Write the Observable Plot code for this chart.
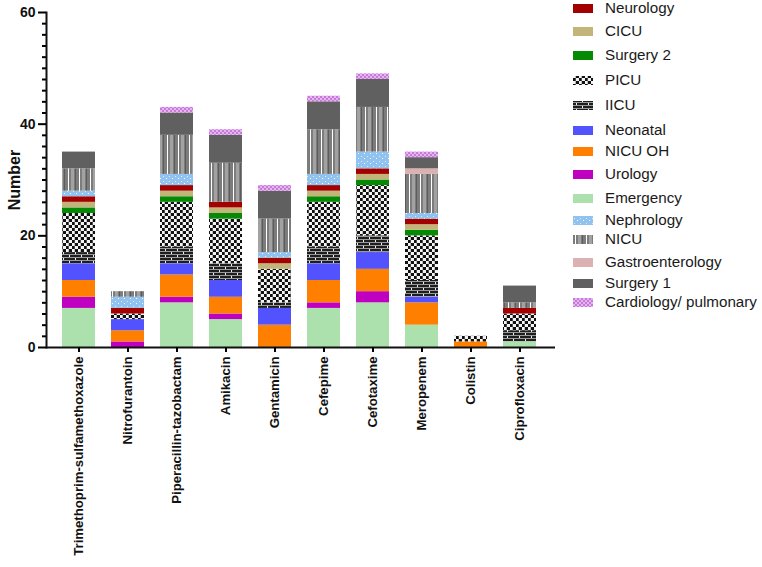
<!DOCTYPE html>
<html><head><meta charset="utf-8">
<script src="https://cdn.jsdelivr.net/npm/d3@7"></script>
<script src="https://cdn.jsdelivr.net/npm/@observablehq/plot@0.6"></script>
<style>
body{margin:0;background:#fff;font-family:"Liberation Sans",Arial,sans-serif;}
#wrap{position:relative;width:762px;height:567px;overflow:hidden;}
#chart{position:absolute;left:0;top:0;}
#chart svg{font-family:"Liberation Sans",Arial,sans-serif;}
#chart svg text{font-weight:bold;fill:#111;}
.item{position:absolute;left:573px;display:flex;align-items:center;font-size:15.2px;color:#1a1a1a;white-space:nowrap;line-height:1;}
.item svg{margin-right:12px;flex:none;}
</style></head><body>
<svg width="0" height="0" style="position:absolute"><defs>
<pattern id="p-picu" patternUnits="userSpaceOnUse" width="6" height="6"><rect width="6" height="6" fill="#f4f4f4"/><rect width="3" height="3" fill="#111"/><rect x="3" y="3" width="3" height="3" fill="#111"/><rect x="2" width="1" height="6" fill="#888" opacity="0.5"/></pattern>
<pattern id="p-iicu" patternUnits="userSpaceOnUse" width="12" height="6"><rect width="12" height="6" fill="#1e1e1e"/><rect y="2" width="12" height="1" fill="#9a9a9a"/><rect y="5" width="12" height="1" fill="#9a9a9a"/><rect x="3" y="0" width="1" height="2" fill="#eee"/><rect x="9" y="3" width="1" height="2" fill="#eee"/></pattern>
<pattern id="p-nicu" patternUnits="userSpaceOnUse" width="11" height="4"><rect width="11" height="4" fill="#7c7c7c"/><rect x="2" width="1" height="4" fill="#fff"/><rect x="5" width="3" height="4" fill="#a2a2a2"/><rect x="9" width="1" height="4" fill="#5c5c5c"/></pattern>
<pattern id="p-neph" patternUnits="userSpaceOnUse" width="6" height="5"><rect width="6" height="5" fill="#90c2f2"/><rect x="1" y="1" width="1" height="1" fill="#f2eeb0"/><rect x="4" y="3" width="1" height="1" fill="#ffffff"/></pattern>
<pattern id="p-card" patternUnits="userSpaceOnUse" width="4" height="4"><rect width="4" height="4" fill="#e6b4f2"/><rect width="2" height="2" fill="#c77ad8"/><rect x="2" y="2" width="2" height="2" fill="#c77ad8"/></pattern>
</defs></svg>
<div id="wrap"><div id="chart"></div><div id="legend"></div></div>
<script>
// Categories (x)
const antibiotics = ["Trimethoprim-sulfamethoxazole","Nitrofurantoin","Piperacillin-tazobactam","Amikacin","Gentamicin","Cefepime","Cefotaxime","Meropenem","Colistin","Ciprofloxacin"];
// Wards, stacking order bottom -> top
const wards = ["Emergency","Urology","NICU OH","Neonatal","IICU","PICU","Surgery 2","CICU","Neurology","Nephrology","NICU","Gastroenterology","Surgery 1","Cardiology/ pulmonary"];
// Series values per ward (same order as antibiotics)
const emergency        = [7,0,8,5,0,7,8,4,0,1];
const urology          = [2,1,1,1,0,1,2,0,0,0];
const nicuOH           = [3,2,4,3,4,4,4,4,1,0];
const neonatal         = [3,2,2,3,3,3,3,1,0,0];
const iicu             = [2,0,3,3,1,3,3,3,0,2];
const picu             = [7,1,8,8,6,8,9,8,1,3];
const surgery2         = [1,0,1,1,0,1,1,1,0,0];
const cicu             = [1,0,1,1,1,1,1,1,0,0];
const neurology        = [1,1,1,1,1,1,1,1,0,1];
const nephrology       = [1,2,2,0,1,2,3,1,0,0];
const nicu             = [4,1,7,7,6,8,8,7,0,1];
const gastroenterology = [0,0,0,0,0,0,0,1,0,0];
const surgery1         = [3,0,4,5,5,5,5,2,0,3];
const cardiology       = [0,0,1,1,1,1,1,1,0,0];
// Y ticks
const yMajor = [0,20,40,60];
const yMinor = [2,4,6,8,10,12,14,16,18,22,24,26,28,30,32,34,36,38,42,44,46,48,50,52,54,56,58];
// Legend order
const legendOrder = ["Neurology","CICU","Surgery 2","PICU","IICU","Neonatal","NICU OH","Urology","Emergency","Nephrology","NICU","Gastroenterology","Surgery 1","Cardiology/ pulmonary"];

const series = [emergency,urology,nicuOH,neonatal,iicu,picu,surgery2,cicu,neurology,nephrology,nicu,gastroenterology,surgery1,cardiology];
const wardFills = ["#ace0ac","#c000c0","#ff8000","#5252ff","url(#p-iicu)","url(#p-picu)","#058a05","#c3b57a","#a30000","url(#p-neph)","url(#p-nicu)","#dbb1b1","#606060","url(#p-card)"];

const rows = [];
wards.forEach((w, i) => antibiotics.forEach((a, j) => rows.push({drug: a, ward: w, value: series[i][j]})));

const chart = Plot.plot({
  width: 560, height: 567,
  marginLeft: 46, marginRight: 5, marginTop: 12, marginBottom: 220,
  x: {domain: antibiotics, range: [62, 537], paddingInner: 0.32, paddingOuter: 0, label: null},
  y: {domain: [0, 60], label: null},
  color: {type: "ordinal", domain: wards, range: wardFills},
  marks: [
    Plot.barY(rows, {x: "drug", y: "value", fill: "ward", order: wards}),
    Plot.ruleY([0], {strokeWidth: 2, stroke: "#111"}),
    Plot.frame({anchor: "left", strokeWidth: 2, stroke: "#111"}),
    Plot.axisY({ticks: yMajor, tickSize: 8, tickPadding: 3, strokeWidth: 2, fontSize: 14, label: "Number", labelAnchor: "center", labelOffset: 38, labelArrow: false}),
    Plot.axisY({ticks: yMinor, tickSize: 4, strokeWidth: 2, text: null, label: null}),
    Plot.axisX({tickSize: 5, tickPadding: 4, tickRotate: -90, fontSize: 13.2, strokeWidth: 2, label: null})
  ]
});
d3.select(chart).selectAll("text").filter(function(){ return this.textContent === "Number"; }).style("font-size", "16px");
document.getElementById("chart").appendChild(chart);

// Legend (HTML with SVG swatches)
const legendTops = [8,31,55,80,105,130,151,174,198,220,239,262,283,302];
const leg = document.getElementById("legend");
legendOrder.forEach((w, k) => {
  const div = document.createElement("div");
  div.className = "item";
  div.style.top = (legendTops[k] - 8) + "px";
  const fill = wardFills[wards.indexOf(w)];
  div.innerHTML = `<svg width="20" height="16"><rect x="0" y="4" width="20" height="9" fill="${fill}"/></svg><span>${w}</span>`;
  leg.appendChild(div);
});
</script>
</body></html>
